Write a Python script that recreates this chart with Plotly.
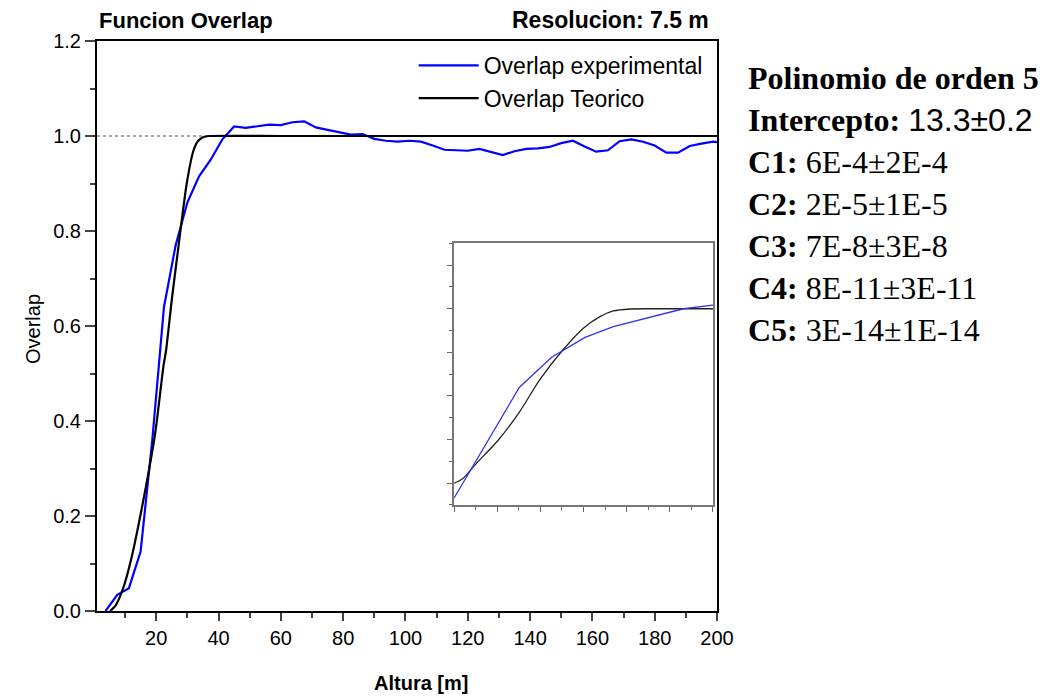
import plotly.graph_objects as go

# experimental overlap (blue)
altura_exp = [3.75, 7.5, 11.25, 15, 18.75, 22.5, 26.25, 30, 33.75, 37.5, 41.25, 45,
              48.75, 52.5, 56.25, 60, 63.75, 67.5, 71.25, 75, 78.75, 82.5, 86.25, 90,
              93.75, 97.5, 101.25, 105, 108.75, 112.5, 116.25, 120, 123.75, 127.5,
              131.25, 135, 138.75, 142.5, 146.25, 150, 153.75, 157.5, 161.25, 165,
              168.75, 172.5, 176.25, 180, 183.75, 187.5, 191.25, 195, 198.75, 200]
overlap_exp = [0.0, 0.034, 0.048, 0.125, 0.36, 0.64, 0.77, 0.86, 0.915, 0.95, 0.993, 1.02,
               1.017, 1.02, 1.024, 1.023, 1.029, 1.031, 1.018, 1.013, 1.008, 1.003, 1.004, 0.994,
               0.99, 0.988, 0.99, 0.988, 0.98, 0.971, 0.97, 0.969, 0.973, 0.966,
               0.96, 0.968, 0.973, 0.974, 0.977, 0.985, 0.99, 0.978, 0.967, 0.97,
               0.989, 0.993, 0.988, 0.98, 0.965, 0.965, 0.979, 0.984, 0.988, 0.987]

# theoretical overlap (black)
altura_teo = [5.2, 7, 9.5, 12, 15.9, 19.7, 22.3, 23.2, 25, 26.6, 29.8, 32, 33.5, 35.2, 37, 60, 100, 150, 200]
overlap_teo = [0.0, 0.012, 0.05, 0.11, 0.234, 0.375, 0.514, 0.55, 0.655, 0.739, 0.9, 0.97, 0.99, 0.998, 1.0, 1.0, 1.0, 1.0, 1.0]

# inset (zoomed view, axis units without labels)
ins_x_exp = [0, 3.02, 4.52, 6.07, 7.38, 9.0, 10.63, 12]
ins_y_exp = [0.32, 5.39, 6.78, 7.69, 8.18, 8.59, 9.0, 9.17]
ins_x_teo = [0, 0.42, 0.96, 2.04, 3.02, 3.98, 5.06, 5.99, 6.76, 7.38, 8.16, 9.4, 12]
ins_y_teo = [1.0, 1.23, 1.83, 2.97, 4.25, 5.76, 7.13, 8.11, 8.64, 8.9, 8.99, 9.0, 9.0]

fit_lines = [
    "<b>Polinomio de orden 5</b>",
    "<b>Intercepto:</b> <span style='font-family:Liberation Sans'>13.3±0.2</span>",
    "<b>C1:</b> 6E-4±2E-4",
    "<b>C2:</b> 2E-5±1E-5",
    "<b>C3:</b> 7E-8±3E-8",
    "<b>C4:</b> 8E-11±3E-11",
    "<b>C5:</b> 3E-14±1E-14",
]

SANS = "Liberation Sans, Arial, sans-serif"
SERIF = "Liberation Serif, Times New Roman, serif"

fig = go.Figure()
fig.add_hline(y=1.0, line=dict(color="#555555", width=1, dash="3px,3px"), layer="below")

fig.add_trace(go.Scatter(x=altura_exp, y=overlap_exp, mode="lines", name="Overlap experimental",
                         line=dict(color="#0000ff", width=2.2)))
fig.add_trace(go.Scatter(x=altura_teo, y=overlap_teo, mode="lines", name="Overlap Teorico",
                         line=dict(color="#000000", width=2.2, shape="spline", smoothing=0.6)))

fig.add_trace(go.Scatter(x=ins_x_teo, y=ins_y_teo, mode="lines", showlegend=False,
                         line=dict(color="#222222", width=1.3, shape="spline", smoothing=0.8),
                         xaxis="x2", yaxis="y2"))
fig.add_trace(go.Scatter(x=ins_x_exp, y=ins_y_exp, mode="lines", showlegend=False,
                         line=dict(color="#3333ee", width=1.3),
                         xaxis="x2", yaxis="y2"))

fig.update_layout(
    width=1047, height=698,
    margin=dict(l=89, r=338, t=33, b=95),
    paper_bgcolor="white", plot_bgcolor="white",
    font=dict(family=SANS, size=20, color="black"),
    xaxis=dict(range=[1, 200], tick0=0, dtick=20, ticks="outside", ticklen=8, tickwidth=1.5,
               showline=True, linecolor="black", linewidth=2, mirror=True, showgrid=False,
               zeroline=False, tickfont=dict(size=20),
               minor=dict(dtick=10, ticks="outside", ticklen=5, tickwidth=1.5, showgrid=False)),
    yaxis=dict(range=[0, 1.2], dtick=0.2, tickformat=".1f", ticks="outside", ticklen=10, tickwidth=1.5,
               showline=True, linecolor="black", linewidth=2, mirror=True, showgrid=False,
               zeroline=False, tickfont=dict(size=20),
               minor=dict(dtick=0.1, ticks="outside", ticklen=5, tickwidth=1.5, showgrid=False)),
    xaxis2=dict(domain=[0.576, 0.9935], anchor="y2", range=[0, 12], tick0=0, dtick=2,
                showticklabels=False, ticks="outside", ticklen=5, tickcolor="#666666", tickwidth=1.2,
                showline=True, linecolor="#777777", linewidth=1.5, mirror=True, showgrid=False,
                zeroline=False,
                minor=dict(dtick=1, ticks="outside", ticklen=3, tickcolor="#666666", showgrid=False)),
    yaxis2=dict(domain=[0.186, 0.645], anchor="x2", range=[0, 12], tick0=1, dtick=2,
                showticklabels=False, ticks="outside", ticklen=5, tickcolor="#666666", tickwidth=1.2,
                showline=True, linecolor="#777777", linewidth=1.5, mirror=True, showgrid=False,
                zeroline=False,
                minor=dict(dtick=1, ticks="outside", ticklen=3, tickcolor="#666666", showgrid=False)),
    legend=dict(x=0.985, y=0.995, xanchor="right", yanchor="top", bgcolor="rgba(0,0,0,0)",
                font=dict(size=23), tracegroupgap=0, itemwidth=60),
    showlegend=True,
)

fig.add_annotation(text="<b>Funcion Overlap</b>", xref="paper", yref="paper", x=0, y=1.0,
                   xanchor="left", yanchor="bottom", yshift=6, showarrow=False, font=dict(size=22))
fig.add_annotation(text="<b>Resolucion: 7.5 m</b>", xref="paper", yref="paper", x=0.99, y=1.0,
                   xanchor="right", yanchor="bottom", yshift=6, showarrow=False, font=dict(size=23))
fig.add_annotation(text="<b>Altura [m]</b>", xref="paper", yref="paper", x=0.523, y=-0.126,
                   xanchor="center", yanchor="middle", showarrow=False, font=dict(size=20))
fig.add_annotation(text="Overlap", xref="paper", yref="paper", x=-0.103, y=0.495, textangle=-90,
                   xanchor="center", yanchor="middle", showarrow=False, font=dict(size=20))

for i, line in enumerate(fit_lines):
    fig.add_annotation(text=line, xref="paper", yref="paper", x=1.047, y=0.935 - i * 0.0737,
                       xanchor="left", yanchor="middle", showarrow=False,
                       font=dict(family=SERIF, size=32, color="black"))

fig.write_html("out.html")
